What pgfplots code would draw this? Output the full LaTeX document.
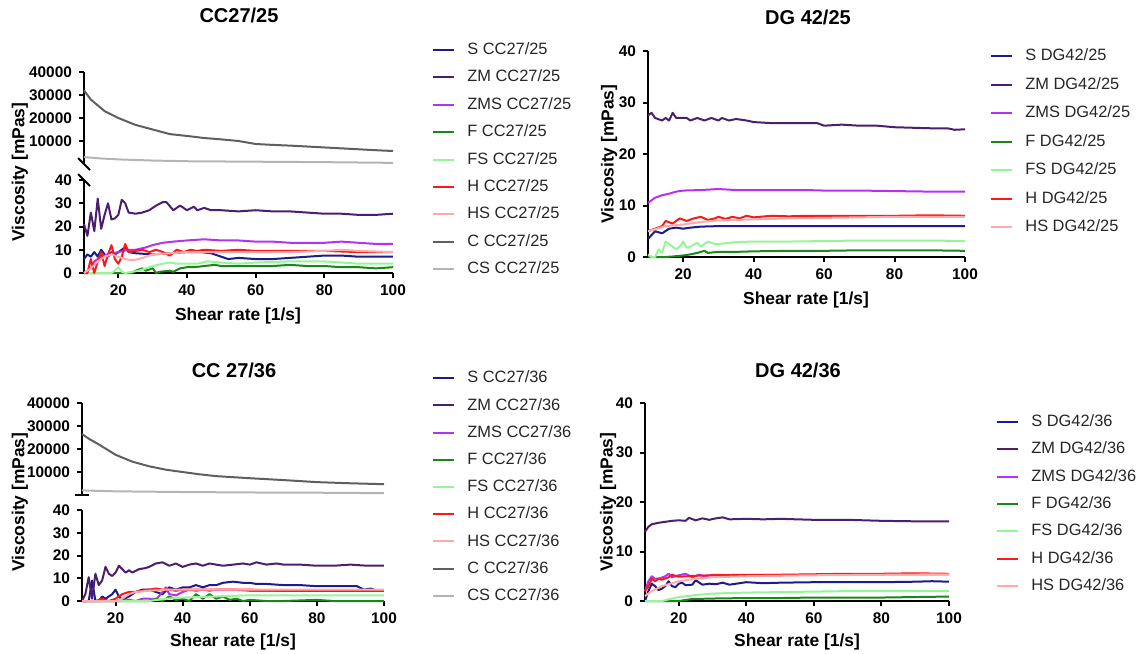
\documentclass[border=0pt]{standalone}
\usepackage{fontspec}
\setmainfont{Liberation Sans}
\usepackage{pgfplots}
\pgfplotsset{compat=1.18}

\definecolor{cS}{RGB}{28,28,140}
\definecolor{cZM}{RGB}{78,30,110}
\definecolor{cZMS}{RGB}{180,50,240}
\definecolor{cF}{RGB}{25,135,25}
\definecolor{cFS}{RGB}{150,245,150}
\definecolor{cH}{RGB}{250,25,25}
\definecolor{cHS}{RGB}{255,170,170}
\definecolor{cC}{RGB}{95,95,95}
\definecolor{cCS}{RGB}{180,180,180}

\pgfplotsset{
  panel/.style={
    scale only axis, anchor=south west,
    axis lines=left, axis line style={-, line width=1pt, black},
    tick align=outside, major tick length=2.5pt,
    every tick/.style={line width=1pt, black},
    xmin=10, xmax=100, xtick={20,40,60,80,100},
    tick label style={font=\bfseries\fontsize{7.7}{8}\selectfont},
    /pgf/number format/assume math mode=true,
    /pgf/number format/1000 sep={},
    clip=false,
    every axis plot/.append style={line width=1pt, line join=round},
    legend cell align=left,
    legend image code/.code={\draw[##1] (0pt,0pt) -- (10.5pt,0pt);},
  },
  upper/.style={panel, axis x line=none, xtick=\empty,
    ymin=0, ymax=40000, ytick={10000,20000,30000,40000}, scaled y ticks=false},
  lower/.style={panel, ymin=0, ymax=40, ytick={0,10,20,30,40}},
  leg/.style={legend style={draw=none, fill=none, inner sep=0pt, column sep=6pt,
    row sep=#1, font=\fontsize{8.2}{9}\selectfont, text=black!85,
    nodes={inner sep=0pt, text height=6.3pt, text depth=1.7pt}}},
}
\newcommand{\ttl}{\bfseries\fontsize{10}{12}\selectfont}
\newcommand{\lbl}{\bfseries\fontsize{8.7}{10}\selectfont}

\begin{document}
\begin{tikzpicture}
\path[use as bounding box] (0,0) rectangle (569pt,-326.5pt);

% ---------- CC27/25 ----------
\node[font=\ttl] at (119.5pt,-7.5pt) {CC27/25};
\node[font=\lbl, rotate=90] at (10pt,-86pt) {Viscosity [mPas]};
\node[font=\lbl] at (119pt,-158pt) {Shear rate [1/s]};
\begin{axis}[upper, at={(42pt,-82pt)}, width=154.5pt, height=46pt]
\addplot[cC] coordinates {(10,32000)(12,28000)(14,25500)(16,23000)(18,21500)(20,20000)(22,18800)(25,17000)(30,15000)(35,13000)(40,12200)(45,11300)(50,10700)(55,10000)(60,8700)(65,8300)(70,8000)(75,7600)(80,7200)(85,6800)(90,6400)(95,6000)(100,5650)};
\addplot[cCS] coordinates {(10,3000)(15,2400)(20,2000)(30,1500)(40,1200)(60,1000)(80,800)(100,500)};
\draw[line width=1pt] ([shift={(-3pt,3pt)}]rel axis cs:0,0) -- ([shift={(3pt,-3pt)}]rel axis cs:0,0);
\end{axis}
\begin{axis}[lower, leg=5.7pt, at={(42pt,-136.5pt)}, width=154.5pt, height=46.5pt,
  legend style={at={(1.1262,1.2204)}, anchor=west}]
\addplot[cS] coordinates {(10,6)(11,8)(12,7)(13,9)(14,7)(15,10)(16,8)(17,7)(18,9)(19,8)(20,9)(21,10)(22,11)(23,9)(25,8.5)(30,8)(35,8.5)(40,9)(44,9)(47,8.5)(50,7)(52,6)(55,6.5)(60,6)(65,6)(70,6.5)(75,7)(80,7.5)(85,7.5)(90,7)(95,7)(100,7)};
\addplot[cZM] coordinates {(10,21)(11,16)(12,26)(13,18)(14,32)(15,19)(16,25)(17,30)(18,23)(19,23.5)(20,25)(21,31.5)(22,30)(23,26)(25,25.5)(27,26)(29,27)(31,29)(33,30.5)(34,30.5)(36,27)(38,29)(39,28)(40,27)(42,28.5)(43,27)(45,28)(47,27)(50,27)(55,26.5)(60,27)(65,26.5)(70,26.5)(75,26)(80,25.5)(85,25.5)(90,25)(95,25)(100,25.5)};
\addplot[cZMS] coordinates {(10,0)(12,2)(13,5)(15,7)(17,8)(20,9)(23,10)(25,10)(28,11)(30,12)(33,13)(36,13.5)(40,14)(45,14.5)(50,14)(55,14)(60,13.5)(65,13.5)(70,13)(80,13)(85,13.5)(90,13)(95,12.5)(100,12.5)};
\addplot[cF] coordinates {(10,0)(24,0)(25,1)(27,2)(28,1)(30,2)(31,0)(32,0.5)(35,1)(36,0.5)(38,2)(40,2.5)(42,2.5)(45,3)(48,3.5)(50,3)(55,3)(60,3)(65,3)(70,3.5)(75,3)(80,3)(85,2.5)(90,2.5)(95,2)(100,2.5)};
\addplot[cFS] coordinates {(10,0)(18,0)(19,1)(20,2.5)(21,0.5)(22,0)(26,1)(28,2)(30,3)(33,4)(35,4.5)(37,4)(40,4)(43,4)(46,5)(50,4.5)(55,4)(60,4.5)(70,5)(80,5)(85,4.5)(90,4)(100,4)};
\addplot[cH] coordinates {(10,0)(11,0)(12,6)(13,0)(14,5)(15,9)(16,3)(17,8)(18,12)(19,6)(20,4)(21,7)(22,12.5)(23,9)(25,9.5)(27,10)(29,9)(31,10)(33,9)(35,7.5)(37,10)(39,9)(41,10)(43,9.5)(45,10)(50,9.5)(55,10)(60,9.5)(70,9.5)(80,9.5)(90,9)(100,9)};
\addplot[cHS] coordinates {(10,0)(12,2)(14,5)(16,7)(18,8)(20,7)(22,6)(24,5.5)(26,6)(28,7)(30,8)(35,8.5)(40,9)(50,9)(60,9)(70,9)(80,9.5)(85,10)(90,9.5)(100,9)};
\addlegendimage{cC, line width=1pt}
\addlegendimage{cCS, line width=1pt}
\legend{S CC27/25, ZM CC27/25, ZMS CC27/25, F CC27/25, FS CC27/25, H CC27/25, HS CC27/25, C CC27/25, CS CC27/25}
\draw[line width=1pt] ([shift={(-3pt,3pt)}]rel axis cs:0,1) -- ([shift={(3pt,-3pt)}]rel axis cs:0,1);
\end{axis}

% ---------- DG 42/25 ----------
\node[font=\ttl] at (404pt,-8.5pt) {DG 42/25};
\node[font=\lbl, rotate=90] at (304.5pt,-77pt) {Viscosity [mPas]};
\node[font=\lbl] at (403pt,-150pt) {Shear rate [1/s]};
\begin{axis}[lower, leg=6.25pt, at={(324pt,-128.5pt)}, width=158.5pt, height=103pt,
  legend style={at={(1.0789,0.5607)}, anchor=west}]
\addplot[cS] coordinates {(10,3.5)(12,5)(13,4.8)(14,4.6)(16,5.5)(18,5.7)(20,5.5)(22,5.7)(25,5.9)(30,6)(40,6)(50,6)(60,6)(70,6)(80,6)(90,6)(100,6)};
\addplot[cZM] coordinates {(10,27.5)(11,28)(12,27)(14,26.5)(15,27)(16,26.5)(17,28)(18,27)(20,27)(21,27)(22,26.5)(24,27)(26,26.5)(28,27)(30,26.5)(31,27)(33,26.5)(35,26.8)(38,26.5)(40,26.2)(45,26)(50,26)(55,26)(58,26)(60,25.5)(65,25.7)(70,25.5)(75,25.5)(80,25.2)(85,25.1)(90,25)(95,25)(97,24.7)(100,24.8)};
\addplot[cZMS] coordinates {(10,10.5)(12,11.5)(14,12)(16,12.3)(18,12.7)(20,12.9)(25,13)(30,13.2)(35,13)(40,13)(50,13)(55,13)(60,12.9)(70,12.9)(80,12.8)(90,12.7)(100,12.7)};
\addplot[cF] coordinates {(10,0)(15,0)(17,0.1)(20,0.3)(22,0.5)(24,0.8)(26,1.2)(27,0.8)(30,1)(35,1)(40,1.1)(50,1.2)(60,1.2)(70,1.3)(80,1.3)(90,1.3)(100,1.2)};
\addplot[cFS] coordinates {(10,0.5)(11,0)(12,0)(13,1.5)(14,0.8)(15,3)(16,2.5)(17,2)(18,1.5)(19,2)(20,3)(21,1.8)(22,2)(24,2.8)(25,2)(27,3)(29,2.5)(31,2.6)(35,2.9)(40,3)(50,3)(60,3.1)(70,3.2)(80,3.2)(90,3.2)(100,3.1)};
\addplot[cH] coordinates {(10,5)(12,5.5)(14,6)(15,7)(17,6.5)(19,7.5)(21,7)(23,7.5)(25,7.8)(27,7.2)(29,7.5)(30,7.8)(32,7.4)(34,7.8)(36,7.5)(38,8)(40,7.7)(45,8)(50,7.9)(55,8)(60,8)(70,8)(80,8)(90,8.1)(100,8)};
\addplot[cHS] coordinates {(10,5)(15,6)(20,6.3)(25,6.8)(30,7.1)(40,7.3)(50,7.5)(60,7.6)(70,7.7)(80,7.8)(90,7.8)(100,7.8)};
\legend{S DG42/25, ZM DG42/25, ZMS DG42/25, F DG42/25, FS DG42/25, H DG42/25, HS DG42/25}
\end{axis}

% ---------- CC 27/36 ----------
\node[font=\ttl] at (117pt,-185pt) {CC 27/36};
\node[font=\lbl, rotate=90] at (10pt,-251pt) {Viscosity [mPas]};
\node[font=\lbl] at (116.5pt,-321pt) {Shear rate [1/s]};
\begin{axis}[upper, at={(41pt,-247.5pt)}, width=151pt, height=46pt]
\addplot[cC] coordinates {(10,26500)(12,24500)(15,22000)(20,17500)(25,14500)(30,12500)(35,11000)(40,10000)(45,9000)(50,8200)(60,7300)(70,6500)(80,5600)(90,5100)(100,4700)};
\addplot[cCS] coordinates {(10,2000)(20,1600)(40,1300)(60,1100)(80,1000)(100,800)};
\draw[line width=1pt] ([xshift=-3.5pt]rel axis cs:0,0) -- ([xshift=3.5pt]rel axis cs:0,0);
\end{axis}
\begin{axis}[lower, leg=5.6pt, at={(41pt,-300.5pt)}, width=151pt, height=45.5pt,
  legend style={at={(1.1589,1.2527)}, anchor=west}]
\addplot[cS] coordinates {(10,0)(12,0)(13,9)(14,0)(15,0)(16,2)(17,1)(19,3)(20,5)(21,2)(22,0.5)(24,2)(26,4)(28,5)(30,5)(32,4)(34,3)(36,6)(38,5)(40,6)(42,6)(44,7)(46,6)(48,7)(50,7)(52,8)(55,8.5)(58,8)(60,8)(62,7.5)(65,7.5)(70,7)(75,7)(80,6.5)(85,6.5)(90,6.5)(92,6.5)(94,5)(96,5.5)(98,4.5)(100,4.5)};
\addplot[cZM] coordinates {(10,0)(11,3)(12,10.5)(13,1)(14,12)(15,7)(16,9)(17,15)(18,12)(19,11)(20,12.5)(21,15.5)(22,14)(23,12.5)(24,13.5)(25,12.5)(27,14)(29,14.5)(30,15)(32,16.5)(34,17)(36,15.5)(38,16.5)(40,15)(42,16)(44,16.5)(46,15.5)(48,16.5)(50,16)(52,15.5)(55,16)(58,16.5)(60,16)(62,17)(65,16)(68,16.5)(70,16)(75,16)(80,15.5)(85,15.5)(90,16)(95,15.5)(100,15.5)};
\addplot[cZMS] coordinates {(10,0)(22,0)(24,0.5)(26,0)(28,1)(30,1)(32,0.5)(34,4)(35,6)(36,3)(38,2.5)(40,4)(42,5)(44,4.5)(46,5)(48,4.5)(50,5)(55,5)(60,4.5)(70,4.5)(80,4.5)(90,4.5)(100,4.5)};
\addplot[cF] coordinates {(10,0)(30,0)(32,1)(34,0)(36,2)(38,0.5)(40,1)(42,0)(44,3)(46,1)(48,3)(50,1)(52,2)(54,0.5)(56,1)(58,0)(60,0.5)(65,0)(70,0)(80,0.5)(85,0)(90,0)(100,0)};
\addplot[cFS] coordinates {(10,0)(30,0)(35,1)(40,1.5)(50,2)(60,2.5)(70,2.5)(80,2.5)(90,2.5)(100,2.5)};
\addplot[cH] coordinates {(10,0)(14,0)(16,1)(18,0)(20,1)(22,3)(24,4)(26,4)(28,4.5)(30,5)(32,5.5)(34,5)(36,5)(38,4.5)(40,5)(45,5)(50,5)(55,5)(60,5)(70,4.5)(80,4.5)(90,4.5)(100,4.5)};
\addplot[cHS] coordinates {(10,0)(20,0)(22,1)(24,3)(26,4)(30,4.5)(35,5)(40,5)(50,5)(60,5)(70,5)(80,5)(90,5)(100,5)};
\addlegendimage{cC, line width=1pt}
\addlegendimage{cCS, line width=1pt}
\legend{S CC27/36, ZM CC27/36, ZMS CC27/36, F CC27/36, FS CC27/36, H CC27/36, HS CC27/36, C CC27/36, CS CC27/36}
\end{axis}

% ---------- DG 42/36 ----------
\node[font=\ttl] at (399pt,-185pt) {DG 42/36};
\node[font=\lbl, rotate=90] at (304pt,-251pt) {Viscosity [mPas]};
\node[font=\lbl] at (398.5pt,-321pt) {Shear rate [1/s]};
\begin{axis}[lower, leg=5.67pt, at={(322.5pt,-300.5pt)}, width=152pt, height=99pt,
  legend style={at={(1.1546,0.4899)}, anchor=west}]
\addplot[cS] coordinates {(10,0)(11,2)(12,3.5)(13,3)(14,2.2)(15,2.5)(16,3)(17,4)(18,3)(19,2.8)(20,3.5)(21,3.7)(22,3.2)(24,3.3)(25,4.2)(27,3.3)(29,3.5)(31,3.4)(33,3.7)(35,3.3)(38,3.6)(40,3.8)(45,3.6)(50,3.7)(60,3.8)(70,3.8)(80,3.8)(90,3.9)(95,4)(100,3.9)};
\addplot[cZM] coordinates {(10,14)(11,15)(12,15.5)(14,15.8)(16,16)(18,16.2)(20,16.3)(22,16.2)(23,16.8)(25,16.3)(27,16.7)(29,16.4)(31,16.7)(33,16.9)(35,16.5)(40,16.6)(45,16.5)(50,16.6)(60,16.4)(70,16.4)(80,16.2)(90,16.1)(100,16.1)};
\addplot[cZMS] coordinates {(10,2)(11,4)(12,5)(13,4.5)(14,4.5)(16,5)(17,5.5)(18,4.8)(20,5.2)(22,5.5)(24,4.8)(26,5.3)(28,5)(30,5.3)(35,5.2)(40,5.2)(50,5.3)(60,5.3)(70,5.3)(80,5.4)(90,5.4)(100,5.4)};
\addplot[cF] coordinates {(10,0)(20,0)(22,0.2)(24,0.4)(30,0.5)(40,0.6)(50,0.6)(60,0.7)(70,0.7)(80,0.7)(90,0.8)(100,0.9)};
\addplot[cFS] coordinates {(10,0)(15,0)(18,0.5)(20,0.8)(25,1.2)(30,1.5)(40,1.7)(50,1.8)(60,1.9)(70,2)(80,2)(90,2)(100,2)};
\addplot[cH] coordinates {(10,2)(11,3)(12,4.5)(13,4)(14,4.5)(15,4.3)(17,4.8)(18,5.3)(20,4.9)(25,5.1)(30,5.2)(40,5.3)(50,5.3)(60,5.4)(70,5.5)(80,5.5)(90,5.6)(100,5.5)};
\addplot[cHS] coordinates {(10,1)(12,2)(15,3)(20,4)(25,4.5)(30,4.8)(40,5)(50,5.1)(60,5.2)(80,5.3)(100,5.4)};
\legend{S DG42/36, ZM DG42/36, ZMS DG42/36, F DG42/36, FS DG42/36, H DG42/36, HS DG42/36}
\end{axis}
\end{tikzpicture}
\end{document}
